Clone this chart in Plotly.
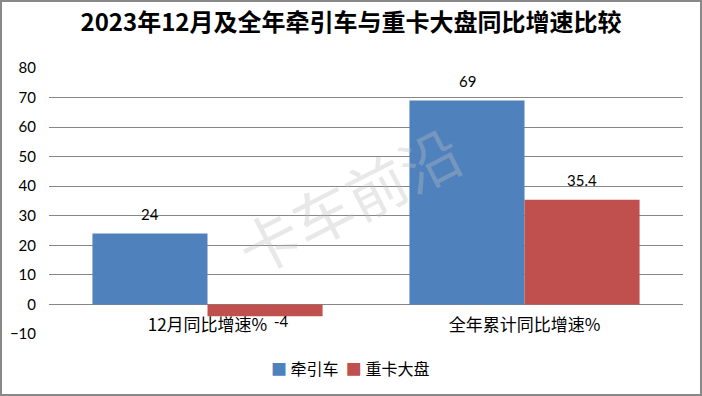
import plotly.graph_objects as go

categories = ["12月同比增速%", "全年累计同比增速%"]
series_names = ["牵引车", "重卡大盘"]
series_colors = ["#4F81BD", "#C0504D"]
tractor = [24, 69]
heavy_truck = [-4, 35.4]
y_ticks = [-10, 0, 10, 20, 30, 40, 50, 60, 70, 80]

W, H = 702, 396
ml, mr, mt, mb = 49, 19, 68, 62
pw, ph = W - ml - mr, H - mt - mb

def px_x(p):
    return (p - ml) / pw

def px_y(p):
    return (H - mb - p) / ph

font_main = "Lato, 'Noto Sans CJK SC', sans-serif"
font_cjk = "'Noto Sans CJK SC', sans-serif"

fig = go.Figure()
for name, vals, col in zip(series_names, [tractor, heavy_truck], series_colors):
    fig.add_trace(go.Bar(x=categories, y=vals, name=name,
                         marker=dict(color=col, line=dict(width=0))))

# data labels
bar_half = 57.5
for vals, shift in [(tractor, -bar_half), (heavy_truck, bar_half)]:
    for c, v in zip(categories, vals):
        fig.add_annotation(x=c, y=v, xref="x", yref="y", text=str(v),
                           showarrow=False, xshift=shift + (16 if v < 0 else 0),
                           yshift=20 if v >= 0 else -5,
                           font=dict(size=15, color="#000", family=font_main))

zero_pos = (0 - y_ticks[0]) / (y_ticks[-1] - y_ticks[0])

fig.update_layout(
    width=W, height=H,
    margin=dict(l=ml, r=mr, t=mt, b=mb, autoexpand=False),
    paper_bgcolor="white", plot_bgcolor="white",
    barmode="group", bargap=0.274, bargroupgap=0,
    font=dict(family=font_main, size=14, color="#000"),
    title=dict(text="<b>2023年12月及全年牵引车与重卡大盘同比增速比较</b>",
               x=351 / W, xanchor="center", xref="container",
               y=1 - 23 / H, yanchor="middle", yref="container",
               font=dict(family=font_cjk, size=24, color="#000")),
    showlegend=False,
    xaxis=dict(anchor="free", position=zero_pos, showline=False, automargin=False,
               tickfont=dict(size=17, family=font_cjk),
               ticks="", showgrid=False, ticklabelstandoff=9),
    yaxis=dict(range=[y_ticks[0], y_ticks[-1]], tickvals=y_ticks, automargin=False,
               showgrid=True, gridcolor="#868686", gridwidth=1.3,
               zeroline=True, zerolinecolor="#868686", zerolinewidth=1.3,
               ticks="", ticklabelstandoff=12,
               tickfont=dict(size=15, family=font_main)),
)

# legend
legend_text = "  ".join(
    f"<span style='color:{c}'>■</span> {n}" for n, c in zip(series_names, series_colors))
fig.add_annotation(text=legend_text, xref="paper", yref="paper",
                   x=px_x(350), y=px_y(368), xanchor="center", yanchor="middle",
                   showarrow=False, font=dict(size=16, color="#000", family=font_cjk))

fig.add_annotation(text="卡车前沿", xref="paper", yref="paper",
                   x=px_x(348), y=px_y(198), showarrow=False, textangle=-27,
                   font=dict(size=60, color="rgba(190,190,190,0.35)", family=font_cjk))

fig.add_shape(type="rect", xref="paper", yref="paper",
              x0=px_x(1), x1=px_x(701), y0=px_y(395), y1=px_y(1),
              line=dict(color="#898989", width=2), fillcolor="rgba(0,0,0,0)",
              layer="above")

fig.write_html("out.html")
